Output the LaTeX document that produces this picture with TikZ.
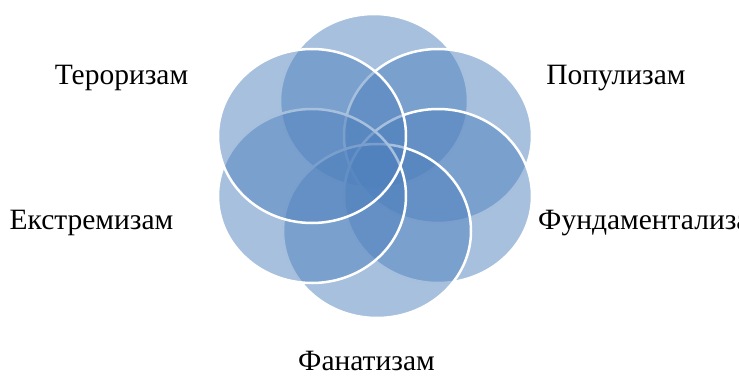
\documentclass[tikz,border=0pt]{standalone}
\usepackage{fontspec}
\setmainfont{Liberation Serif}
\usetikzlibrary{shapes.geometric}
\definecolor{acc}{HTML}{4F81BD}
\begin{document}
\begin{tikzpicture}[x=1pt,y=-1pt,
  petal/.style={ellipse, minimum width=188pt, minimum height=174pt, inner sep=0pt,
                fill=acc, fill opacity=0.5, draw=white, draw opacity=1, line width=2.5pt},
  lbl/.style={font=\fontsize{29.5}{34}\selectfont, inner sep=0pt, text=black}]
\useasboundingbox (0,0) rectangle (739,377);
\clip (0,0) rectangle (739,377);
% petals in drawing order
\node[petal] (ptop) at (374,101) {};
\node[petal] (pur)  at (438,136) {};
\node[petal] (plr)  at (438,196) {};
\node[petal] (pbot) at (377,231) {};
\node[petal] (pll)  at (312,196) {};
\node[petal] (pul)  at (312,136) {};
% labels
\node[lbl, anchor=base] (lter) at (121.5,85) {Тероризам};
\node[lbl, anchor=base] (lpop) at (616,85) {Популизам};
\node[lbl, anchor=base] (lext) at (91.5,229) {Екстремизам};
\node[lbl, anchor=base west] (lfun) at (538,229) {Фундаментализам};
\node[lbl, anchor=base] (lfan) at (366.5,370) {Фанатизам};
\end{tikzpicture}
\end{document}
